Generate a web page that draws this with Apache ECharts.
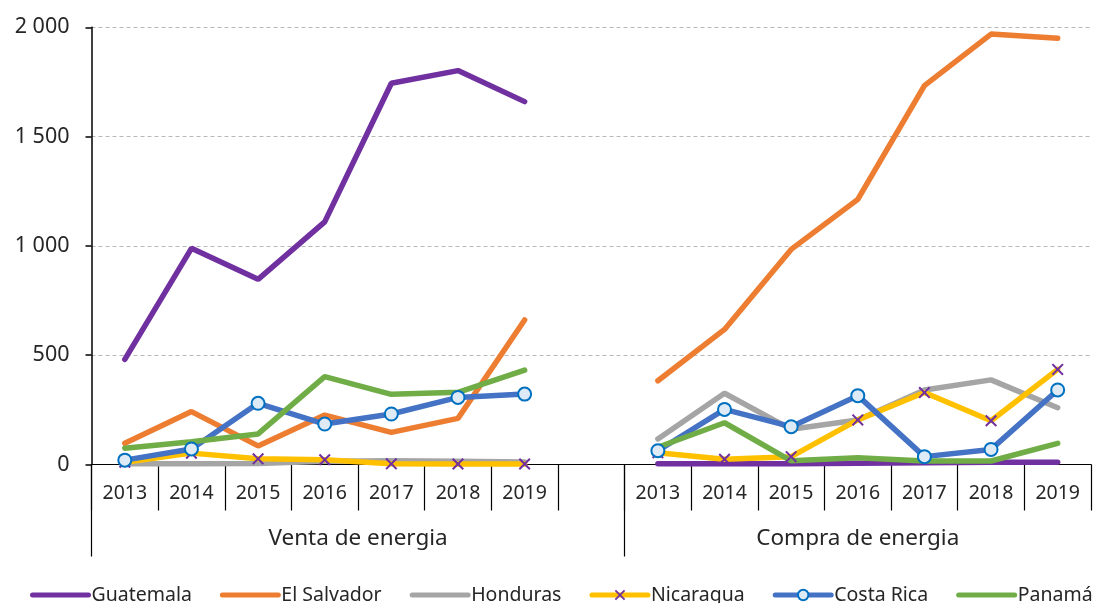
<!DOCTYPE html>
<html>
<head>
<meta charset="utf-8">
<script src="https://cdn.jsdelivr.net/npm/echarts@6/dist/echarts.min.js"></script>
<style>
  html, body { margin: 0; padding: 0; background: #fff; }
  #chart { width: 1094px; height: 603px; }
</style>
</head>
<body>
<div id="chart"></div>
<script>
// años y grupos
var years = ['2013', '2014', '2015', '2016', '2017', '2018', '2019'];
var groupNames = ['Venta de energia', 'Compra de energia'];
var yTicks = [0, 500, 1000, 1500, 2000];

// valores (venta / compra)
var guatemalaVenta = [481, 989, 847, 1110, 1744, 1802, 1660];
var guatemalaCompra = [3, 3, 4, 6, 8, 10, 10];
var salvadorVenta = [97, 242, 85, 226, 147, 211, 661];
var salvadorCompra = [383, 618, 984, 1213, 1733, 1969, 1950];
var hondurasVenta = [3, 4, 5, 15, 17, 15, 12];
var hondurasCompra = [117, 326, 161, 204, 341, 387, 260];
var nicaraguaVenta = [10, 52, 26, 22, 3, 2, 2];
var nicaraguaCompra = [54, 24, 36, 204, 329, 200, 435];
var costaRicaVenta = [20, 71, 280, 185, 231, 307, 322];
var costaRicaCompra = [63, 252, 173, 315, 36, 69, 341];
var panamaVenta = [74, 104, 140, 402, 321, 330, 432];
var panamaCompra = [79, 191, 17, 31, 16, 16, 97];

// colores
var cGuate = '#7030a0';
var cSalv = '#ed7d31';
var cHond = '#a5a5a5';
var cNica = '#ffc000';
var cCR = '#4472c4';
var cPan = '#70ad47';

var textColor = '#262626';
var fontFam = '"Noto Sans", sans-serif';
var crossPath = 'path://M0,1.2L1.2,0L5,3.8L8.8,0L10,1.2L6.2,5L10,8.8L8.8,10L5,6.2L1.2,10L0,8.8L3.8,5Z';

// eje de categorias: 7 años + hueco + 7 años
var categories = years.concat([''], years);
function joinGroups(a, b) {
    return a.concat([null], b);
}

// eje secundario para los nombres de grupo (medios intervalos)
var halfCats = [];
for (var i = 0; i <= 30; i++) halfCats.push('');
halfCats[8] = groupNames[0];
halfCats[23] = groupNames[1];

function spaceThousands(v) {
    return String(v).replace(/\B(?=(\d{3})+(?!\d))/g, ' ');
}

function lineSeries(name, color, a, b) {
    return {
        name: name,
        type: 'line',
        data: joinGroups(a, b),
        connectNulls: false,
        symbol: 'none',
        lineStyle: { color: color, width: 5.5, cap: 'round' },
        itemStyle: { color: color },
        emphasis: { disabled: true }
    };
}

var chart = echarts.init(document.getElementById('chart'));

var sNica = lineSeries('Nicaragua', cNica, nicaraguaVenta, nicaraguaCompra);
sNica.symbol = crossPath;
sNica.symbolSize = 12;
sNica.showSymbol = true;
sNica.itemStyle = { color: cGuate };

var sCR = lineSeries('Costa Rica', cCR, costaRicaVenta, costaRicaCompra);
sCR.symbol = 'circle';
sCR.symbolSize = 13;
sCR.showSymbol = true;
sCR.itemStyle = { color: '#deebf7', borderColor: '#0070c0', borderWidth: 2 };

// leyenda: solo linea (sin marcador) para las series simples
var hidden = { opacity: 0 };

var option = {
    animation: false,
    textStyle: { fontFamily: fontFam },
    grid: { left: 91.5, top: 27.3, width: 1006, height: 437.2 },
    legend: {
        top: 585,
        left: 30,
        padding: 0,
        width: 1200,
        itemWidth: 56,
        itemHeight: 13,
        itemGap: 28,
        lineStyle: { width: 5, cap: 'round' },
        textStyle: { color: textColor, fontSize: 19.5, fontFamily: fontFam, padding: [0, 0, 0, -2] },
        data: [
            { name: 'Guatemala', itemStyle: hidden },
            { name: 'El Salvador', itemStyle: hidden },
            { name: 'Honduras', itemStyle: hidden },
            { name: 'Nicaragua' },
            { name: 'Costa Rica' },
            { name: 'Panamá', itemStyle: hidden }
        ]
    },
    xAxis: [{
        type: 'category',
        data: categories,
        boundaryGap: true,
        axisLine: { lineStyle: { color: '#000', width: 1.2 } },
        axisTick: { show: true, interval: 0, length: 46, lineStyle: { color: '#000', width: 1.2 } },
        axisLabel: { interval: 0, color: textColor, fontSize: 19.5, margin: 19, fontFamily: fontFam },
        splitLine: { show: false }
    }, {
        type: 'category',
        data: halfCats,
        position: 'bottom',
        boundaryGap: false,
        axisLine: { show: false },
        axisTick: {
            show: true,
            length: 92,
            interval: function (idx) { return idx === 0 || idx === 16; },
            lineStyle: { color: '#000', width: 1.2 }
        },
        axisLabel: { interval: 0, color: textColor, fontSize: 22.5, margin: 63, fontFamily: fontFam },
        splitLine: { show: false }
    }],
    yAxis: {
        type: 'value',
        min: yTicks[0],
        max: yTicks[yTicks.length - 1],
        interval: 500,
        axisLine: { show: true, lineStyle: { color: '#000', width: 1.5 } },
        axisTick: { show: true, length: 6, lineStyle: { color: '#000', width: 1.5 } },
        axisLabel: {
            color: textColor, fontSize: 21.5, margin: 22, fontFamily: fontFam,
            formatter: spaceThousands
        },
        splitLine: { show: true, lineStyle: { color: '#b8b8b8', type: [4, 3], width: 1.2 } }
    },
    series: [
        lineSeries('Guatemala', cGuate, guatemalaVenta, guatemalaCompra),
        lineSeries('El Salvador', cSalv, salvadorVenta, salvadorCompra),
        lineSeries('Honduras', cHond, hondurasVenta, hondurasCompra),
        sNica,
        sCR,
        lineSeries('Panamá', cPan, panamaVenta, panamaCompra)
    ]
};

chart.setOption(option);
</script>
</body>
</html>
